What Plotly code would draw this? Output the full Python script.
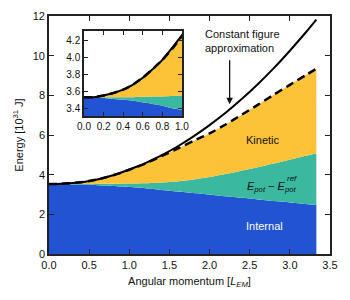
import plotly.graph_objects as go

# Angular momentum [L_EM]
L = [0, 0.1, 0.2, 0.3, 0.4, 0.5, 0.6, 0.7, 0.8, 0.9, 1.0, 1.1, 1.2,
     1.4, 1.6, 1.8, 2.0, 2.2, 2.4, 2.6, 2.8, 3.0, 3.2, 3.33]
# Constant figure approximation (solid)
E_const = [3.53, 3.53, 3.55, 3.58, 3.62, 3.68, 3.76, 3.86, 3.97, 4.11, 4.26, 4.41, 4.58,
           4.97, 5.42, 5.93, 6.50, 7.12, 7.81, 8.56, 9.37, 10.25, 11.18, 11.82]
# Total energy (dashed, top of kinetic)
E_total = [3.53, 3.53, 3.55, 3.58, 3.62, 3.68, 3.76, 3.86, 3.97, 4.10, 4.25, 4.40, 4.56,
           4.93, 5.31, 5.70, 6.08, 6.53, 7.02, 7.52, 8.03, 8.53, 9.02, 9.34]
# Internal + (E_pot - E_pot_ref)
E_int_pot = [3.53, 3.53, 3.53, 3.53, 3.53, 3.53, 3.535, 3.54, 3.54, 3.545, 3.55, 3.56, 3.57,
             3.61, 3.66, 3.76, 3.88, 4.03, 4.20, 4.37, 4.56, 4.75, 4.95, 5.08]
# Internal
E_internal = [3.53, 3.53, 3.52, 3.51, 3.50, 3.49, 3.47, 3.45, 3.43, 3.40, 3.38, 3.35, 3.31,
              3.23, 3.15, 3.07, 2.99, 2.91, 2.83, 2.75, 2.67, 2.60, 2.52, 2.47]

x_ticks = [0, 0.5, 1.0, 1.5, 2.0, 2.5, 3.0, 3.5]
y_ticks = [0, 2, 4, 6, 8, 10, 12]
ix_ticks = [0.0, 0.2, 0.4, 0.6, 0.8, 1.0]
iy_ticks = [3.4, 3.6, 3.8, 4.0, 4.2]

BLUE = "#2153D3"
TEAL = "#3AB8A0"
YELLOW = "#FDC338"
FONT = "Liberation Sans, Arial, sans-serif"

fig = go.Figure()


def add_set(xa, ya, lw):
    sp = dict(shape="spline", smoothing=0.6)
    fig.add_trace(go.Scatter(x=L, y=E_internal, mode="lines", line=dict(width=0, color=BLUE, **sp),
                             fill="tozeroy", fillcolor=BLUE, xaxis=xa, yaxis=ya, hoverinfo="skip"))
    fig.add_trace(go.Scatter(x=L, y=E_int_pot, mode="lines", line=dict(width=0, color=TEAL, **sp),
                             fill="tonexty", fillcolor=TEAL, xaxis=xa, yaxis=ya, hoverinfo="skip"))
    fig.add_trace(go.Scatter(x=L, y=E_total, mode="lines", line=dict(width=0, color=YELLOW, **sp),
                             fill="tonexty", fillcolor=YELLOW, xaxis=xa, yaxis=ya, hoverinfo="skip"))
    fig.add_trace(go.Scatter(x=L, y=E_total, mode="lines",
                             line=dict(width=lw + 0.5, color="black", dash="8px,5px", **sp),
                             xaxis=xa, yaxis=ya, hoverinfo="skip"))
    fig.add_trace(go.Scatter(x=L, y=E_const, mode="lines",
                             line=dict(width=lw, color="black", **sp),
                             xaxis=xa, yaxis=ya, hoverinfo="skip"))


add_set("x", "y", 2)
add_set("x2", "y2", 2)

axis_common = dict(showline=True, linecolor="#222", linewidth=1.6, mirror="ticks",
                   ticks="inside", tickcolor="#222", showgrid=False, zeroline=False,
                   automargin=False)

fig.update_layout(
    width=342, height=292,
    margin=dict(l=41, r=20, t=8, b=46, autoexpand=False),
    paper_bgcolor="white", plot_bgcolor="white",
    showlegend=False,
    font=dict(family=FONT, size=11, color="#111"),
    xaxis=dict(range=[0, 3.5], tickvals=x_ticks, ticktext=[f"{v:.1f}" for v in x_ticks],
               ticklen=5, tickwidth=1.2,
               title=dict(text="Angular momentum [<i>L<sub>EM</sub></i>]", standoff=7,
                          font=dict(size=11)), **axis_common),
    yaxis=dict(range=[0, 12], tickvals=y_ticks, ticklen=5, tickwidth=1.2,
               title=dict(text="Energy [10<sup>31</sup> J]", standoff=7, font=dict(size=11)),
               **axis_common),
    xaxis2=dict(domain=[0.1246, 0.473], anchor="y2", range=[0, 1.0], tickvals=ix_ticks,
                ticktext=[f"{v:.1f}" for v in ix_ticks], ticklen=4, tickwidth=1.1,
                tickfont=dict(size=10), **axis_common),
    yaxis2=dict(domain=[0.58, 0.937], anchor="x2", range=[3.31, 4.31], tickvals=iy_ticks,
                ticktext=[f"{v:.1f}" for v in iy_ticks], ticklen=4, tickwidth=1.1,
                tickfont=dict(size=10), **axis_common),
)

fig.add_annotation(x=1.92, y=10.73, xref="x", yref="y", xanchor="left", align="left",
                   text="Constant figure<br>approximation", showarrow=False,
                   font=dict(size=11, color="#111"))
fig.add_annotation(x=2.25, y=7.55, ax=2.25, ay=9.85, xref="x", yref="y", axref="x", ayref="y",
                   text="", showarrow=True, arrowhead=2, arrowsize=1, arrowwidth=1.3,
                   arrowcolor="#111")
fig.add_annotation(x=2.66, y=5.76, xref="x", yref="y", text="Kinetic", showarrow=False,
                   font=dict(size=11, color="#111"))
fig.add_annotation(x=2.77, y=3.40, xref="x", yref="y",
                   text="<i>E</i><sub><i>pot</i></sub> − <i>E</i><sub><i>pot</i></sub>",
                   showarrow=False, font=dict(size=11, color="#111"))
fig.add_annotation(x=3.03, y=3.82, xref="x", yref="y", text="<i>ref</i>", showarrow=False,
                   font=dict(size=8, color="#111"))
fig.add_annotation(x=2.69, y=1.41, xref="x", yref="y", text="Internal", showarrow=False,
                   font=dict(size=11, color="white"))

fig.write_html("out.html")
